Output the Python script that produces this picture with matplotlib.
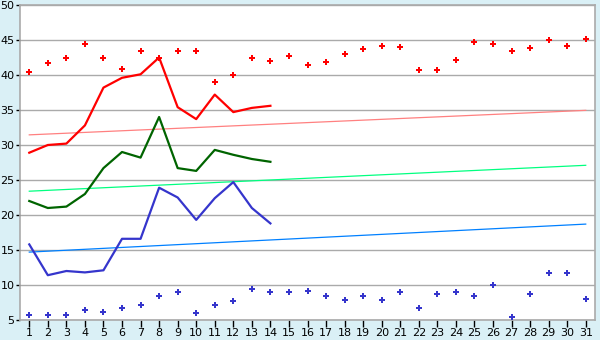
import matplotlib
matplotlib.use("Agg")
import matplotlib.pyplot as plt
import numpy as np

days = list(range(1, 32))
max_pts = [40.4, 41.7, 42.4, 44.4, 42.5, 40.8, 43.5, 42.5, 43.5, 43.4,
           39.0, 40.0, 42.4, 42.0, 42.7, 41.5, 41.8, 43.0, 43.7, 44.2,
           44.0, 40.7, 40.7, 42.2, 44.7, 44.4, 43.4, 43.8, 45.0, 44.2, 45.1]
min_pts = [5.7, 5.7, 5.7, 6.5, 6.1, 6.7, 7.2, 8.4, 9.0, 6.0,
           7.2, 7.7, 9.4, 9.0, 9.0, 9.2, 8.5, 7.8, 8.4, 7.8,
           9.0, 6.7, 8.7, 9.0, 8.4, 10.0, 5.4, 8.7, 11.7, 11.7, 8.0]
line_days = list(range(1, 15))
red_line = [28.9, 30.0, 30.2, 32.8, 38.2, 39.6, 40.1, 42.5, 35.4, 33.7,
            37.2, 34.7, 35.3, 35.6]
green_line = [22.0, 21.0, 21.2, 23.0, 26.7, 29.0, 28.2, 34.0, 26.7, 26.3,
              29.3, 28.6, 28.0, 27.6]
blue_line = [15.8, 11.4, 12.0, 11.8, 12.1, 16.6, 16.6, 23.9, 22.5, 19.3,
             22.4, 24.7, 21.0, 18.8]
trend_ends = [1, 31]
red_trend = [31.45, 34.95]
green_trend = [23.4, 27.1]
blue_trend = [14.7, 18.7]
yticks = [5, 10, 15, 20, 25, 30, 35, 40, 45, 50]

bg = "#DAF0F6"
fig = plt.figure(figsize=(6, 3.4), dpi=100, facecolor=bg)
ax = fig.add_axes([20/600, 1-320/340, 575/600, 315/340])
ax.set_facecolor("white")

for y in yticks:
    ax.axhline(y, color="#AAAAAA", lw=1.0, zorder=1)

ax.plot(trend_ends, red_trend, color="#FF8080", lw=0.9, zorder=2)
ax.plot(trend_ends, green_trend, color="#00FF80", lw=0.9, zorder=2)
ax.plot(trend_ends, blue_trend, color="#0080FF", lw=0.9, zorder=2)

ax.plot(line_days, red_line, color="#FF0000", lw=1.6, zorder=3)
ax.plot(line_days, green_line, color="#006400", lw=1.6, zorder=3)
ax.plot(line_days, blue_line, color="#3535CC", lw=1.6, zorder=3)

ax.plot(days, max_pts, ls="none", marker="P", ms=4.8, mew=0,
        color="#FF0000", zorder=4)
ax.plot(days, min_pts, ls="none", marker="P", ms=4.8, mew=0,
        color="#3535CC", zorder=4)

ax.set_xlim(0.5, 31.5)
ax.set_ylim(5, 50)
ax.set_xticks(days)
ax.set_xticklabels([str(d) for d in days])
ax.set_yticks(yticks)
for s in ax.spines.values():
    s.set_color("#AAAAAA")
    s.set_linewidth(1.2)
ax.tick_params(axis="y", labelsize=8, color="black", length=3, width=1,
               pad=1, labelcolor="black")
ax.tick_params(axis="x", labelsize=8, color="black", length=5, width=1,
               pad=1, labelcolor="black")
fig.savefig("out.png", dpi=100, facecolor=bg)
